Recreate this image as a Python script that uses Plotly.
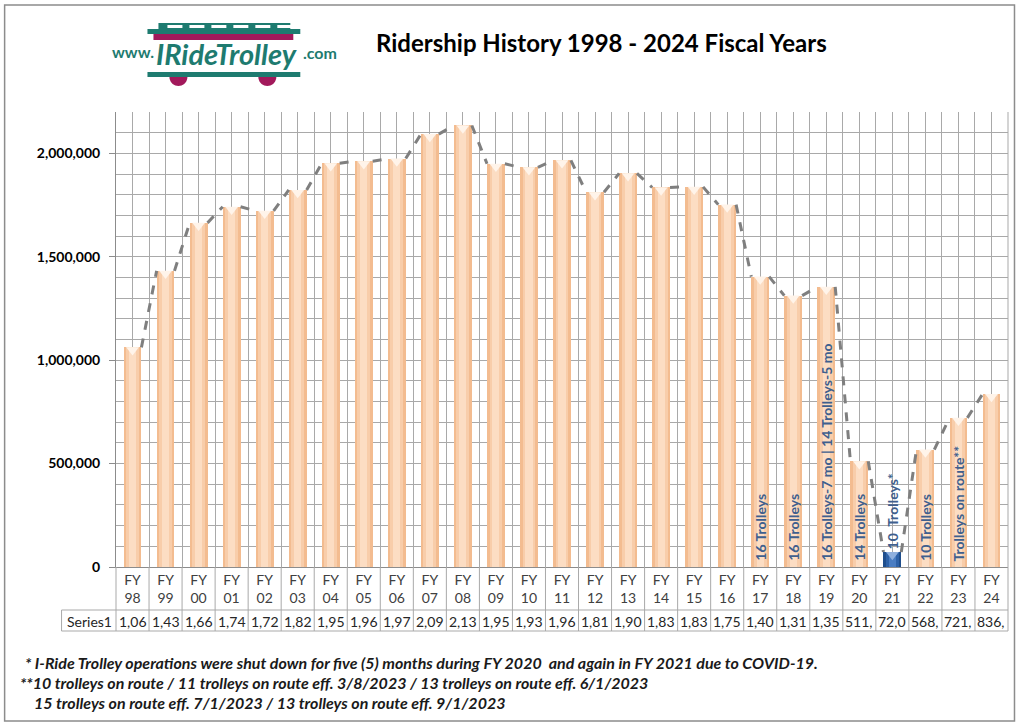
import plotly.graph_objects as go
import math

# ---------------- data ----------------
years = ["98", "99", "00", "01", "02", "03", "04", "05", "06", "07", "08", "09", "10",
         "11", "12", "13", "14", "15", "16", "17", "18", "19", "20", "21", "22", "23", "24"]
riders = [1062000, 1432000, 1664000, 1742000, 1722000, 1823000, 1952000, 1962000, 1975000,
          2093000, 2135000, 1950000, 1932000, 1966000, 1812000, 1903000, 1835000, 1838000,
          1752000, 1404000, 1312000, 1355000, 511000, 72000, 568000, 721000, 836000]
bar_notes = {"17": "16 Trolleys", "18": "16 Trolleys",
             "19": "16 Trolleys-7 mo | 14 Trolleys-5 mo", "20": "14 Trolleys",
             "21": "10\u00a0\u00a0Trolleys*", "22": "10 Trolleys", "23": "Trolleys on route**"}
highlight_year = "21"
series_name = "Series1"
title_text = "Ridership History 1998 - 2024 Fiscal Years"
footnotes = [
    "* I-Ride Trolley operations were shut down for five (5) months during FY 2020  and again in FY 2021 due to COVID-19.",
    "**10 trolleys on route / 11 trolleys on route eff. 3/8/2023 / 13 trolleys on route eff. 6/1/2023",
    "15 trolleys on route eff. 7/1/2023 / 13 trolleys on route eff. 9/1/2023",
]
y_ticks = [0, 500000, 1000000, 1500000, 2000000]

# ---------------- layout geometry ----------------
W, H = 1019, 724
PL, PR, PT, PB = 115.5, 1008.5, 112, 567
FONT = "Lato"
GRID = "#A9A9A9"
TEAL = "#1E7B70"
MAGENTA = "#A2195B"


def px(x):
    return (x - PL) / (PR - PL)


def py(y):
    return (PB - y) / (PB - PT)


n = len(years)
xs = list(range(n))
BW = 0.54

is_hi = [y == highlight_year for y in years]
outer_c = ["#1F4E8C" if h else "#F3BC90" for h in is_hi]
mid_c = ["#2E62A8" if h else "#F8CDAA" for h in is_hi]
inner_c = ["#4A7DC2" if h else "#FCDDC3" for h in is_hi]
bevel_c = ["#8FB0DE" if h else "#FFF4EA" for h in is_hi]

fig = go.Figure()

# dashed series line (right top corner -> next left top corner)
lx, ly = [], []
for i in range(n - 1):
    lx += [xs[i] + BW / 2, xs[i + 1] - BW / 2, None]
    ly += [riders[i], riders[i + 1], None]
fig.add_trace(go.Scatter(x=lx, y=ly, mode="lines", hoverinfo="skip",
                         line=dict(color="#7F7F7F", width=3, dash="dash"),
                         showlegend=False))

# bars (layered for cylinder shading)
for wfrac, cols in [(BW, outer_c), (BW * 0.72, mid_c), (BW * 0.4, inner_c)]:
    fig.add_trace(go.Bar(x=xs, y=riders, width=wfrac, marker=dict(color=cols, line=dict(width=0)),
                         showlegend=False, hoverinfo="skip"))

# bevel notch at the top of the bars
fig.add_trace(go.Scatter(x=xs, y=[v - 13000 for v in riders], mode="markers",
                         marker=dict(symbol="triangle-down", size=11, color=bevel_c,
                                     line=dict(width=0)),
                         showlegend=False, hoverinfo="skip"))

annotations = []
# in-bar labels
for i, yv in enumerate(years):
    if yv in bar_notes:
        above = yv == highlight_year
        annotations.append(dict(x=xs[i], y=riders[i] if above else 0, xref="x", yref="y",
                                text="<b>" + bar_notes[yv] + "</b>",
                                textangle=-90, showarrow=False, xanchor="center", yanchor="bottom",
                                yshift=1 if above else 4,
                                font=dict(family=FONT, size=14, color="#3F5F8E")))

# data table row
for i, v in enumerate(riders):
    annotations.append(dict(x=xs[i], y=py(621), xref="x", yref="paper", text=f"{v:,}"[:4],
                            showarrow=False, xanchor="center", yanchor="middle",
                            font=dict(family=FONT, size=14, color="#262626")))
annotations.append(dict(x=px(64), y=py(621), xref="paper", yref="paper", text=series_name,
                        showarrow=False, xanchor="left", yanchor="middle",
                        font=dict(family=FONT, size=14, color="#262626")))

# title
annotations.append(dict(x=px(602), y=py(42), xref="paper", yref="paper", text="<b>" + title_text + "</b>",
                        showarrow=False, xanchor="center", yanchor="middle",
                        font=dict(family=FONT, size=24, color="#000000")))

# footnotes
for (fx, fy), t in zip([(22, 662), (17, 682), (31, 702)], footnotes):
    annotations.append(dict(x=px(fx), y=py(fy), xref="paper", yref="paper", text="<b><i>" + t + "</i></b>",
                            showarrow=False, xanchor="left", yanchor="middle",
                            font=dict(family=FONT, size=16, color="#1A1A1A")))

# logo text
annotations.append(dict(x=px(109), y=py(51), xref="paper", yref="paper", text="<b>www.</b>",
                        showarrow=False, xanchor="left", yanchor="middle",
                        font=dict(family=FONT, size=16, color=TEAL)))
annotations.append(dict(x=px(226), y=py(53), xref="paper", yref="paper", text="<b><i>IRideTrolley</i></b>",
                        showarrow=False, xanchor="center", yanchor="middle",
                        font=dict(family=FONT, size=29, color=TEAL)))
annotations.append(dict(x=px(339), y=py(52), xref="paper", yref="paper", text="<b>.com</b>",
                        showarrow=False, xanchor="right", yanchor="middle",
                        font=dict(family=FONT, size=16, color=TEAL)))

shapes = []
# outer chart border
shapes.append(dict(type="rect", xref="paper", yref="paper", x0=px(4), x1=px(1015), y0=py(721), y1=py(5),
                   line=dict(color="#8C8C8C", width=1.5), layer="below"))
# table lines
for k in range(n + 1):
    shapes.append(dict(type="line", xref="paper", yref="paper", x0=k / n, x1=k / n, y0=py(567), y1=py(631),
                       line=dict(color=GRID, width=1)))
for yy in (610, 631):
    shapes.append(dict(type="line", xref="paper", yref="paper", x0=px(61), x1=1, y0=py(yy), y1=py(yy),
                       line=dict(color=GRID, width=1)))
shapes.append(dict(type="line", xref="paper", yref="paper", x0=px(61), x1=px(61), y0=py(610), y1=py(631),
                   line=dict(color=GRID, width=1)))
shapes.append(dict(type="line", xref="paper", yref="paper", x0=1, x1=1, y0=0, y1=1,
                   line=dict(color=GRID, width=1)))


# logo shapes
def prect(x0, y0, x1, y1, color):
    return dict(type="rect", xref="paper", yref="paper", x0=px(x0), x1=px(x1), y0=py(y1), y1=py(y0),
                fillcolor=color, line=dict(width=0), layer="above")


def psemi(cx, cy, r, color):
    pts = []
    for k in range(0, 19):
        a = math.pi * k / 18
        pts.append((px(cx + r * math.cos(a)), py(cy + r * math.sin(a))))
    path = "M " + " L ".join(f"{x:.5f},{y:.5f}" for x, y in pts) + " Z"
    return dict(type="path", xref="paper", yref="paper", path=path, fillcolor=color,
                line=dict(width=0), layer="above")


shapes.append(psemi(178, 77, 9, MAGENTA))
shapes.append(psemi(267, 77, 9, MAGENTA))
shapes.append(prect(158, 23, 290, 30, TEAL))
for wx in range(167, 282, 22):
    shapes.append(prect(wx, 25, wx + 15, 28, "#FFFFFF"))
shapes.append(prect(147, 29, 300, 34, TEAL))
shapes.append(prect(153, 34, 293, 40, MAGENTA))
for sx in range(160, 293, 14):
    shapes.append(psemi(sx, 40, 4, "#FFFFFF"))
shapes.append(prect(147, 72, 300, 77, TEAL))

fig.update_layout(
    width=W, height=H,
    margin=dict(l=PL, r=W - PR, t=PT, b=H - PB, pad=0),
    paper_bgcolor="white", plot_bgcolor="white",
    barmode="overlay", bargap=0,
    showlegend=False,
    annotations=annotations, shapes=shapes,
    xaxis=dict(range=[-0.5, n - 0.5], tickmode="array", tickvals=xs,
               ticktext=["FY<br>" + y for y in years],
               tickfont=dict(family=FONT, size=14, color="#404040"),
               ticks="", showgrid=True, gridcolor=GRID, gridwidth=1,
               minor=dict(tickmode="array", tickvals=[k - 0.5 for k in range(n + 1)],
                          showgrid=True, gridcolor=GRID, gridwidth=1, ticks=""),
               showline=True, linecolor="#8C8C8C", linewidth=1, zeroline=False, fixedrange=True),
    yaxis=dict(range=[0, 2200000], tickmode="array", tickvals=y_ticks,
               ticktext=[f"{v:,}" for v in y_ticks],
               tickfont=dict(family=FONT, size=14, color="#000000", weight="bold"),
               ticks="outside", ticklen=6, tickcolor="#8C8C8C", ticklabelstandoff=6,
               showgrid=True, gridcolor=GRID, gridwidth=1,
               minor=dict(dtick=100000, showgrid=True, gridcolor=GRID, gridwidth=1, ticks=""),
               showline=True, linecolor="#8C8C8C", linewidth=1, zeroline=False, fixedrange=True),
)

fig.write_html("out.html", config={"displayModeBar": False},
               post_script="document.body.style.margin='0';")
